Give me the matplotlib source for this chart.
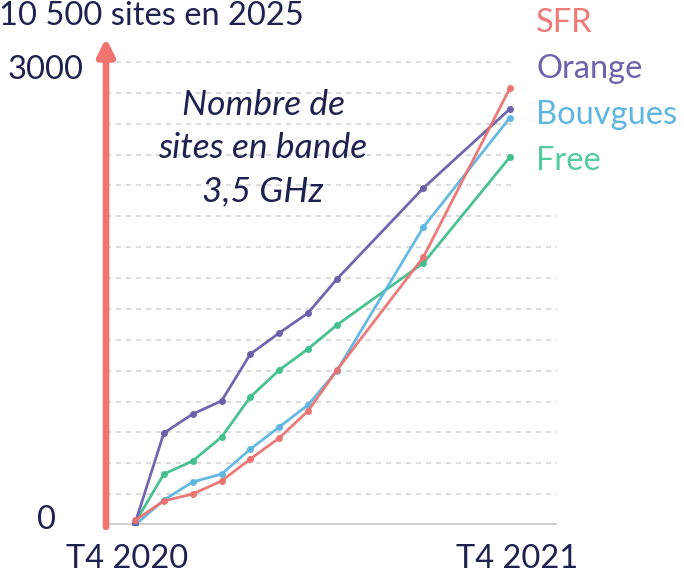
import matplotlib
matplotlib.use("Agg")
import matplotlib.pyplot as plt

# ---- data ----
periods = [0, 1, 2, 3, 4, 5, 6, 7, 10, 13]  # months since T4 2020
sfr = [30, 156, 201, 285, 428, 564, 739, 1004, 1737, 2832]
orange = [10, 596, 719, 804, 1108, 1244, 1374, 1594, 2184, 2696]
bouygues = [0, 162, 279, 330, 492, 635, 778, 1000, 1931, 2640]
free = [15, 330, 415, 570, 830, 1004, 1141, 1296, 1698, 2385]
series_names = ["SFR", "Orange", "Bouvgues", "Free"]
x_labels = ["T4 2020", "T4 2021"]
y_labels = ["0", "3000"]
top_note = "10 500 sites en 2025"
inner_note = "Nombre de\nsites en bande\n3,5 GHz"

colors = ["#ea7372", "#6a5eaa", "#5db6e2", "#3fbf8c"]
label_colors = ["#ee7b78", "#6d63ad", "#5db6e2", "#55cc9d"]
navy = "#1f2150"

W, H = 684, 574
plt.rcParams['font.family'] = ['Lato', 'DejaVu Sans']
fig = plt.figure(figsize=(W / 100, H / 100), dpi=100)

# pixel geometry
x0_px, x13_px = 135, 510
y0_px, y3000_px = 525, 62
ax_left, ax_right = 106, 557
ax_top = 38
px_per_unit_x = (x13_px - x0_px) / 13
px_per_unit_y = (y0_px - y3000_px) / 3000
xmin = (ax_left - x0_px) / px_per_unit_x
xmax = (ax_right - x0_px) / px_per_unit_x
ymax = (y0_px - ax_top) / px_per_unit_y

ax = fig.add_axes([ax_left / W, (H - y0_px) / H, (ax_right - ax_left) / W, (y0_px - ax_top) / H])
ax.set_xlim(xmin, xmax)
ax.set_ylim(0, ymax)
for s in ax.spines.values():
    s.set_visible(False)
ax.set_xticks([])
ax.set_yticks([])

# gridlines
for g in range(200, 3001, 200):
    ax.axhline(g, color="#d6d6d6", lw=1.2, ls=(0, (3, 3)), zorder=1)
# baseline
ax.axhline(0, color="#cfcfcf", lw=3, zorder=1)

data = [sfr, orange, bouygues, free]
for i in [3, 2, 1, 0]:
    ax.plot(periods, data[i], color=colors[i], lw=2, marker="o", ms=4, zorder=3, alpha=0.95)

# white legend area cover
fig.patches.append(plt.Rectangle((516 / W, (H - 203) / H), 1, 1, transform=fig.transFigure,
                                 color="white", zorder=5))

# red arrow axis
ax.annotate("", xy=(xmin, ymax), xytext=(xmin, -12),
            arrowprops=dict(arrowstyle="-|>,head_length=1.0,head_width=0.5", color="#f07470", lw=4.8,
                            shrinkA=0, shrinkB=0), annotation_clip=False, zorder=6)

fs = 23.5
fig.text(-1 / W, 1 - 16 / H, top_note, color=navy, fontsize=fs, va="center", ha="left")
fig.text(84 / W, 1 - 70 / H, y_labels[1], color=navy, fontsize=fs, va="center", ha="right")
fig.text(56 / W, 1 - 520 / H, y_labels[0], color=navy, fontsize=fs, va="center", ha="right")
fig.text(127 / W, 1 - 559 / H, x_labels[0], color=navy, fontsize=fs, va="center", ha="center")
fig.text(517 / W, 1 - 559 / H, x_labels[1], color=navy, fontsize=fs, va="center", ha="center")

fig.text(263 / W, 1 - 148 / H, inner_note, color=navy, fontsize=25.5, style="italic",
         va="center", ha="center", linespacing=1.42)

for k, (name, c) in enumerate(zip(series_names, label_colors)):
    fig.text(536 / W, 1 - (23 + 46 * k) / H, name, color=c, fontsize=23.5, va="center", ha="left", zorder=7)

fig.savefig("out.png", dpi=100, facecolor="white")
